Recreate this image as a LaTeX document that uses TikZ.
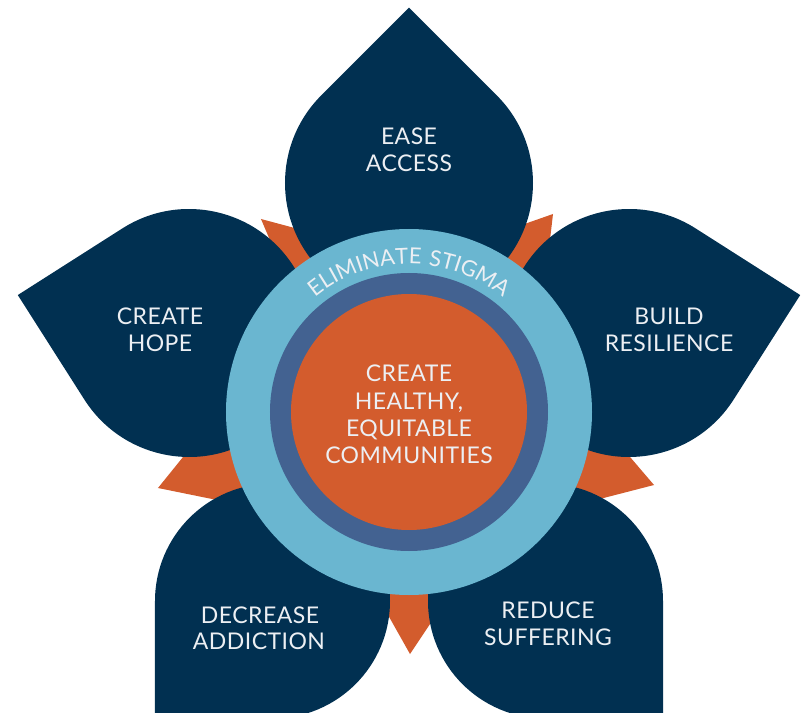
\documentclass[tikz,border=0pt]{standalone}
\usepackage{fontspec}
\setmainfont{Lato}
\newfontfamily\labfont[LetterSpace=2]{Lato}
\newfontfamily\stigfont[LetterSpace=6]{Lato}
\usetikzlibrary{decorations.text}
\definecolor{navy}{RGB}{1,48,81}
\definecolor{orng}{RGB}{211,92,45}
\definecolor{lblue}{RGB}{106,182,208}
\definecolor{ringblue}{RGB}{67,98,145}
\definecolor{txt}{RGB}{236,239,243}
\tikzset{
  petalfill/.style={fill=navy},
  starpoint/.style={fill=orng},
  disc/.style={circle, inner sep=0pt, draw=none},
  lab/.style={text=txt, font=\labfont\fontsize{23}{27}\selectfont, anchor=base, inner sep=0pt}
}
\newcommand\petalshape[4]{%
  \fill[petalfill] ([shift={(#1,#2)}]#4:{#3*1.41421}) -- ([shift={(#1,#2)}]{#4+45}:#3)
    arc[start angle={#4+45}, end angle={#4+315}, radius=#3] -- cycle;}
\begin{document}
\begin{tikzpicture}[x=1pt,y=1pt]
\useasboundingbox (-409,-300) rectangle (399,412);
% orange star points
\fill[starpoint] (-148,193) -- (-51,167) -- (0,0) -- (-109,101) -- cycle;
\fill[starpoint] (144,198) -- (50,165) -- (0,0) -- (132.5,99) -- cycle;
\fill[starpoint] (-251,-76) -- (-188,2) -- (0,0) -- (-143,-98) -- cycle;
\fill[starpoint] (245,-73) -- (180,3) -- (0,0) -- (148,-98) -- cycle;
\fill[starpoint] (1,-242) -- (-48,-155) -- (0,0) -- (56.5,-159) -- cycle;
% petals
\petalshape{0}{229}{124}{90}
\petalshape{220}{79}{124}{12.5}
\petalshape{-220}{79}{124}{167.5}
\petalshape{-136.5}{-189}{117.5}{225}
\petalshape{136.5}{-189}{117.5}{315}
% centre discs
\node[disc, fill=lblue, minimum size=366pt] (outer) at (0,0) {};
\node[disc, fill=ringblue, minimum size=278pt] (ring) at (0,0) {};
\node[disc, fill=orng, minimum size=236pt] (core) at (0,0) {};
\path[decorate, decoration={text along path, text align=center,
  text={|\stigfont\fontsize{22}{23}\selectfont\color{txt}|ELIMINATE STIGMA}}]
  (132:148) arc[start angle=132, end angle=48, radius=148];
% labels
\node[lab] (ease1) at (0,267) {EASE};
\node[lab] (ease2) at (0,240.3) {ACCESS};
\node[lab] (hope1) at (-249,87) {CREATE};
\node[lab] (hope2) at (-249,60) {HOPE};
\node[lab] (res1) at (260,87) {BUILD};
\node[lab] (res2) at (260,60) {RESILIENCE};
\node[lab] (add1) at (-149,-211) {DECREASE};
\node[lab] (add2) at (-150,-237) {ADDICTION};
\node[lab] (suf1) at (139,-206) {REDUCE};
\node[lab] (suf2) at (139,-233) {SUFFERING};
\node[lab] (c1) at (0,30.3) {CREATE};
\node[lab] (c2) at (0,3) {HEALTHY,};
\node[lab] (c3) at (0,-24.7) {EQUITABLE};
\node[lab] (c4) at (0,-51) {COMMUNITIES};
\end{tikzpicture}
\end{document}
